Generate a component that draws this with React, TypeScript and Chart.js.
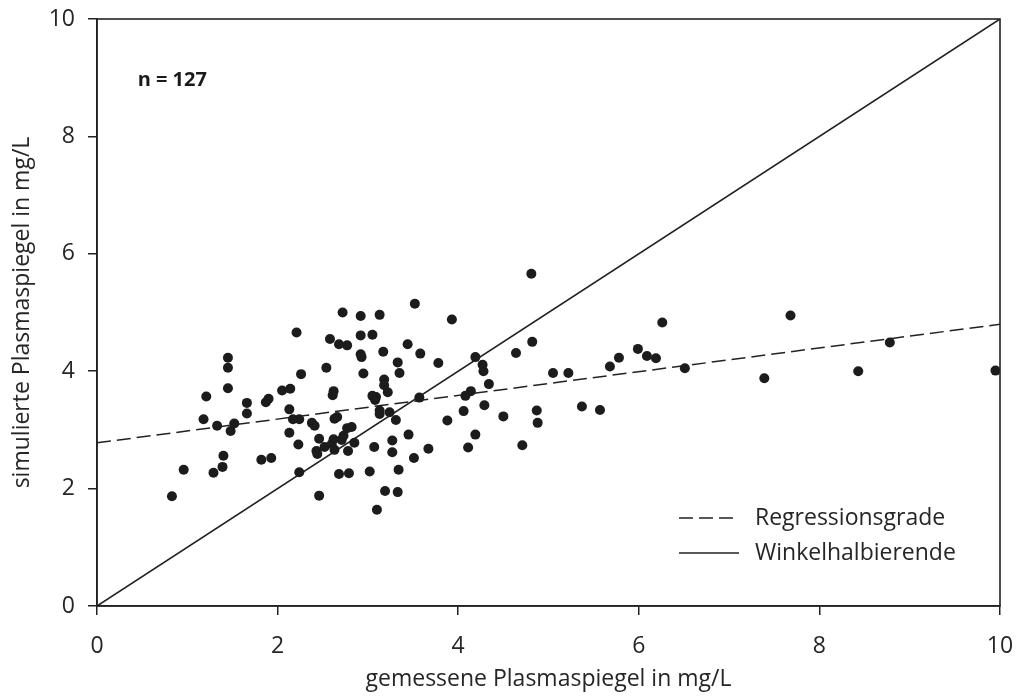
import React, { useEffect, useRef } from "react";
import { Chart, registerables } from "chart.js";

Chart.register(...registerables);

// measured (x) and simulated (y) plasma levels, mg/L
const measured = [
  0.83, 0.96, 1.18, 1.21, 1.29, 1.33, 1.39, 1.40, 1.45, 1.45,
  1.45, 1.48, 1.52, 1.66, 1.66, 1.82, 1.87, 1.90, 1.93, 2.05,
  2.13, 2.13, 2.14, 2.17, 2.21, 2.23, 2.24, 2.24, 2.26, 2.38,
  2.41, 2.43, 2.44, 2.46, 2.46, 2.52, 2.54, 2.58, 2.60, 2.61,
  2.62, 2.62, 2.63, 2.63, 2.66, 2.68, 2.68, 2.71, 2.72, 2.73,
  2.77, 2.77, 2.78, 2.79, 2.82, 2.85, 2.92, 2.92, 2.92, 2.93,
  2.95, 3.02, 3.05, 3.05, 3.07, 3.08, 3.09, 3.10, 3.13, 3.13,
  3.13, 3.17, 3.18, 3.18, 3.19, 3.22, 3.24, 3.27, 3.27, 3.31,
  3.33, 3.33, 3.34, 3.35, 3.44, 3.45, 3.51, 3.52, 3.57, 3.58,
  3.67, 3.78, 3.88, 3.93, 4.06, 4.08, 4.11, 4.14, 4.19, 4.19,
  4.27, 4.28, 4.29, 4.34, 4.50, 4.64, 4.71, 4.81, 4.82, 4.87,
  4.88, 5.05, 5.22, 5.37, 5.57, 5.68, 5.78, 5.99, 6.09, 6.19,
  6.26, 6.51, 7.39, 7.68, 8.43, 8.78, 9.95,
];
const simulated = [
  1.87, 2.32, 3.18, 3.57, 2.27, 3.07, 2.37, 2.56, 4.23, 4.06,
  3.71, 2.98, 3.11, 3.46, 3.28, 2.49, 3.47, 3.53, 2.52, 3.67,
  3.35, 2.95, 3.70, 3.18, 4.66, 2.75, 3.18, 2.28, 3.95, 3.12,
  3.07, 2.64, 2.59, 2.85, 1.88, 2.71, 4.06, 4.55, 2.76, 3.59,
  3.66, 2.84, 3.19, 2.66, 3.22, 4.46, 2.25, 2.83, 5.00, 2.90,
  4.44, 3.03, 2.64, 2.26, 3.05, 2.78, 4.94, 4.61, 4.29, 4.24,
  3.96, 2.29, 4.62, 3.58, 2.71, 3.51, 3.56, 1.64, 4.96, 3.33,
  3.27, 4.33, 3.86, 3.76, 1.96, 3.64, 3.30, 2.82, 2.62, 3.17,
  4.15, 1.94, 2.32, 3.97, 4.46, 2.92, 2.52, 5.15, 3.55, 4.30,
  2.68, 4.14, 3.16, 4.88, 3.32, 3.58, 2.70, 3.66, 4.24, 2.92,
  4.11, 4.00, 3.42, 3.78, 3.23, 4.31, 2.74, 5.66, 4.50, 3.33,
  3.12, 3.97, 3.97, 3.40, 3.34, 4.08, 4.23, 4.38, 4.26, 4.22,
  4.83, 4.05, 3.88, 4.95, 4.00, 4.49, 4.01,
];

const regressionX = [0, 10];
const regressionY = [2.78, 4.8];
const identityX = [0, 10];
const identityY = [0, 10];

const xTicks = [0, 2, 4, 6, 8, 10];
const yTicks = [0, 2, 4, 6, 8, 10];

const xTitle = "gemessene Plasmaspiegel in mg/L";
const yTitle = "simulierte Plasmaspiegel in mg/L";
const nLabel = "n = 127";
const nLabelPos = [0.45, 8.96];
const legendLabels = ["Regressionsgrade", "Winkelhalbierende"];

const FONT = "'Open Sans', sans-serif";
const INK = "#262626";
const LINE = "#222222";

const overlayPlugin = {
  id: "overlay",
  afterDraw(chart: any) {
    const { ctx, chartArea: a, scales } = chart;
    ctx.save();
    // frame box
    ctx.strokeStyle = LINE;
    ctx.lineWidth = 1.6;
    ctx.setLineDash([]);
    ctx.strokeRect(a.left, a.top, a.right - a.left, a.bottom - a.top);

    // n label
    ctx.fillStyle = "#1a1a1a";
    ctx.font = `bold 20px ${FONT}`;
    ctx.textBaseline = "middle";
    ctx.textAlign = "left";
    ctx.fillText(nLabel, scales.x.getPixelForValue(nLabelPos[0]), scales.y.getPixelForValue(nLabelPos[1]));

    // legend
    const lx0 = a.right - 321;
    const lx1 = a.right - 261;
    const tx = a.right - 245;
    const rows = [a.bottom - 88, a.bottom - 53];
    ctx.lineWidth = 1.5;
    ctx.strokeStyle = LINE;
    rows.forEach((ry, i) => {
      ctx.beginPath();
      ctx.setLineDash(i === 0 ? [14, 6] : []);
      ctx.moveTo(lx0, ry);
      ctx.lineTo(lx1, ry);
      ctx.stroke();
      ctx.setLineDash([]);
      ctx.fillStyle = INK;
      ctx.font = `23px ${FONT}`;
      ctx.textBaseline = "middle";
      ctx.fillText(legendLabels[i], tx, ry);
    });
    ctx.restore();
  },
};

export default function App() {
  const ref = useRef<HTMLCanvasElement | null>(null);

  useEffect(() => {
    if (!ref.current) return;
    const points = measured.map((x, i) => ({ x, y: simulated[i] }));
    const reg = regressionX.map((x, i) => ({ x, y: regressionY[i] }));
    const ident = identityX.map((x, i) => ({ x, y: identityY[i] }));

    const chart = new Chart(ref.current, {
      type: "scatter",
      data: {
        datasets: [
          {
            label: "Messwerte",
            data: points,
            pointRadius: 5,
            pointBackgroundColor: "#1c1c1c",
            pointBorderWidth: 0,
            borderWidth: 0,
            order: 0,
          },
          {
            type: "line",
            label: legendLabels[0],
            data: reg,
            borderColor: LINE,
            borderWidth: 1.5,
            borderDash: [14, 6],
            pointRadius: 0,
            fill: false,
            order: 1,
          },
          {
            type: "line",
            label: legendLabels[1],
            data: ident,
            borderColor: LINE,
            borderWidth: 1.6,
            pointRadius: 0,
            fill: false,
            order: 2,
          },
        ] as any,
      },
      options: {
        animation: false,
        responsive: false,
        layout: { padding: { top: 19, right: 18, left: 0, bottom: 0 } },
        plugins: {
          legend: { display: false },
          tooltip: { enabled: false },
        },
        scales: {
          x: {
            type: "linear",
            min: 0,
            max: 10,
            afterFit: (s: any) => {
              s.height = 92;
              s.paddingLeft = 0;
              s.paddingRight = 0;
            },
            afterBuildTicks: (s: any) => {
              s.ticks = xTicks.map((v) => ({ value: v }));
            },
            grid: {
              drawOnChartArea: false,
              drawTicks: true,
              tickLength: 9,
              color: LINE,
              lineWidth: 1.5,
            },
            border: { display: true, color: LINE, width: 1.6 },
            ticks: {
              color: INK,
              font: { family: FONT, size: 23 },
              padding: 18,
              maxRotation: 0,
            },
            title: {
              display: true,
              text: xTitle,
              color: INK,
              font: { family: FONT, size: 23, lineHeight: 1.2 },
              padding: { top: 0, bottom: 5 },
            },
          },
          y: {
            type: "linear",
            min: 0,
            max: 10,
            afterFit: (s: any) => {
              s.width = 97;
              s.paddingTop = 0;
              s.paddingBottom = 0;
            },
            afterBuildTicks: (s: any) => {
              s.ticks = yTicks.map((v) => ({ value: v }));
            },
            grid: {
              drawOnChartArea: false,
              drawTicks: true,
              tickLength: 9,
              color: LINE,
              lineWidth: 1.5,
            },
            border: { display: true, color: LINE, width: 1.6 },
            ticks: {
              color: INK,
              font: { family: FONT, size: 23 },
              padding: 13,
            },
            title: {
              display: true,
              text: yTitle,
              color: INK,
              font: { family: FONT, size: 23, lineHeight: 1.2 },
              padding: { top: 9, bottom: 0 },
            },
          },
        },
      },
      plugins: [overlayPlugin],
    });
    return () => chart.destroy();
  }, []);

  return (
    <div style={{ position: "fixed", left: 0, top: 0, width: 1018, height: 698, background: "#fff" }}>
      <canvas ref={ref} width={1018} height={698} style={{ display: "block" }} />
    </div>
  );
}
